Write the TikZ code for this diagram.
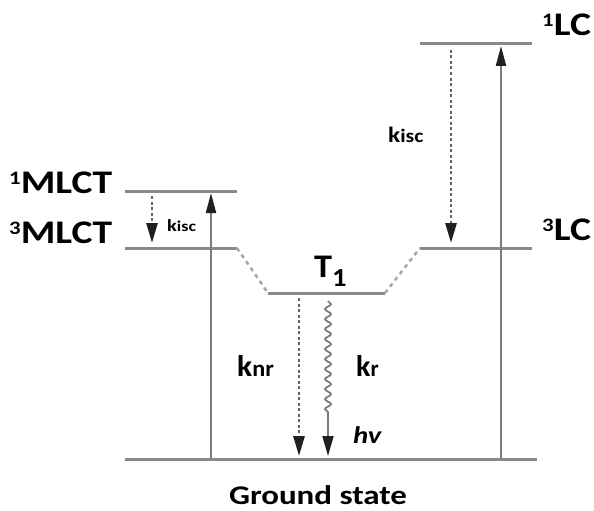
\documentclass[tikz,border=0pt]{standalone}
\usepackage{graphicx}
\usepackage{fontspec}
\setmainfont{Carlito}
\usetikzlibrary{arrows.meta,decorations.pathmorphing}
\definecolor{levelcol}{HTML}{8A8A8A}
\definecolor{arrowcol}{HTML}{7C7C7C}
\definecolor{dotcol}{HTML}{646464}
\definecolor{headcol}{HTML}{202020}

\newcommand{\statename}[2]{\scalebox{1.2}[1]{\raisebox{9pt}{\fontsize{19}{19}\selectfont #1}#2}}
\newcommand{\ratename}[4]{\scalebox{#4}[1]{{\fontsize{#1}{#1}\selectfont k}{\fontsize{#2}{#2}\selectfont #3}}}

\begin{document}
\begin{tikzpicture}[x=1pt,y=-1pt,
	level/.style={draw=levelcol,line width=3pt},
	slope/.style={draw=levelcol!75,line width=2.5pt,dash pattern=on 4pt off 4pt},
	excite/.style={draw=arrowcol,line width=2pt,-{Triangle[length=20pt,width=10pt,color=headcol]}},
	decay/.style={draw=dotcol,line width=2.8pt,dash pattern=on 3pt off 2.5pt,-{Triangle[length=20pt,width=11pt,color=headcol]}},
	emit/.style={draw=arrowcol,line width=1.8pt,-{Triangle[length=20pt,width=11pt,color=headcol]}},
	statelab/.style={inner sep=0pt,font=\bfseries\fontsize{33}{33}\selectfont},
	ratelab/.style={inner sep=0pt,font=\bfseries}]
\useasboundingbox (0,0) rectangle (594,511);
% energy levels
\foreach \name/\xa/\xb/\y in {mlctA/125/237/191, mlctB/125/237/248, tone/268/385/293,
	lcB/420/532/248, lcA/420/532/44, gs/125/537/459}{
	\coordinate (\name W) at (\xa,\y);
	\coordinate (\name E) at (\xb,\y);
	\draw[level] (\name W) -- (\name E);
	}
\draw[slope] (mlctBE) -- (toneW);
\draw[slope] (toneE) -- (lcBW);
% transitions
\coordinate (exLbot) at (211,459);
\coordinate (exLtop) at (211,193);
\coordinate (exRbot) at (501,459);
\coordinate (exRtop) at (501,46);
\coordinate (iscLtop) at (152,196);
\coordinate (iscLbot) at (152,243);
\coordinate (iscRtop) at (451,50);
\coordinate (iscRbot) at (451,243);
\coordinate (nrtop) at (299,298);
\coordinate (nrbot) at (299,456);
\coordinate (rtop) at (328,301);
\coordinate (rbend) at (328,413);
\coordinate (rbot) at (328,456);
\draw[excite] (exLbot) -- (exLtop);
\draw[excite] (exRbot) -- (exRtop);
\draw[decay] (iscLtop) -- (iscLbot);
\draw[decay] (iscRtop) -- (iscRbot);
\draw[decay] (nrtop) -- (nrbot);
\draw[emit] (rtop) decorate[decoration={snake,amplitude=3pt,segment length=10pt}] {-- (rbend)} -- (rbot);
% labels
\node[statelab,anchor=base west] (mlctAlab) at (9,193) {\statename{1}{MLCT}};
\node[statelab,anchor=base west] (mlctBlab) at (9,243) {\statename{3}{MLCT}};
\node[statelab,anchor=base west] (lcAlab) at (542,36) {\statename{1}{LC}};
\node[statelab,anchor=base west] (lcBlab) at (542,240) {\statename{3}{LC}};
\node[statelab,anchor=base west] (tonelab) at (314,277) {\scalebox{1.1}[1]{T\raisebox{-0.3em}{\fontsize{26}{26}\selectfont 1}}};
\node[ratelab,anchor=base west] (iscLlab) at (167,231) {\ratename{17}{15}{isc}{1.2}};
\node[ratelab,anchor=base west] (iscRlab) at (388,142) {\ratename{22}{19}{isc}{1.15}};
\node[ratelab,anchor=base west] (nrlab) at (237,376) {\ratename{30}{23}{nr}{1.05}};
\node[ratelab,anchor=base west] (rlab) at (356,376) {\ratename{30}{23}{r}{1}};
\node[ratelab,anchor=base west,font=\bfseries\itshape\fontsize{24}{24}\selectfont] (hvlab) at (353,443) {\scalebox{1.2}[1]{hv}};
\node[ratelab,anchor=base,font=\bfseries\fontsize{27}{27}\selectfont] (gslab) at (318,504) {\scalebox{1.22}[1]{Ground state}};
\end{tikzpicture}
\end{document}
